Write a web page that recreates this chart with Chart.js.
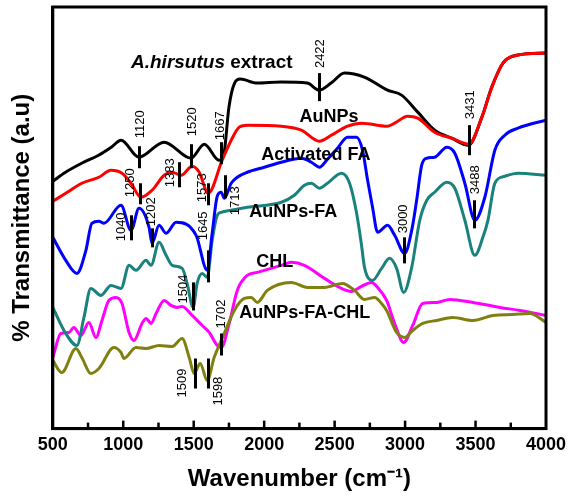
<!DOCTYPE html>
<html>
<head>
<meta charset="utf-8">
<script src="https://cdn.jsdelivr.net/npm/chart.js@4.4.0/dist/chart.umd.min.js"></script>
<style>
  html, body { margin: 0; padding: 0; background: #fff; }
</style>
</head>
<body>
<canvas id="ftirChart" width="575" height="498"></canvas>
<script>
// FTIR spectra, wavenumber (cm-1) vs transmittance (arbitrary, offset units)
const extractWn = [500, 590, 705, 825, 915, 985, 1110, 1290, 1480, 1575, 1680, 1715, 1750, 1790, 1830, 1950, 2120, 2305, 2390, 2475, 2570, 2710, 2875, 2975, 3090, 3210, 3330, 3450, 3545, 3615, 3695, 3800, 4000];
const extractT = [247, 256, 265, 273, 281, 288, 271, 286, 270, 284, 268, 275, 321, 345, 349, 345, 346, 345, 338, 345, 355, 351, 338, 333, 316, 298, 290, 283, 311, 341, 365, 373, 375];

const aunpsWn = [500, 592, 706, 827, 913, 991, 1055, 1126, 1204, 1290, 1347, 1411, 1489, 1539, 1603, 1702, 1766, 1823, 1880, 2122, 2264, 2392, 2478, 2592, 2691, 2876, 2926, 3018, 3090, 3210, 3331, 3452, 3545, 3616, 3694, 3801, 4000];
const aunpsT = [227, 235, 245, 251, 258, 255, 245, 231, 238, 253, 256, 253, 262, 256, 235, 268, 288, 301, 303, 302, 298, 287, 293, 302, 305, 302, 305, 312, 310, 296, 290, 284, 311, 341, 365, 373, 375];

const faWn = [500, 592, 671, 735, 777, 827, 863, 984, 1055, 1112, 1183, 1204, 1254, 1304, 1375, 1517, 1596, 1631, 1667, 1695, 1717, 1766, 1809, 1880, 2001, 2122, 2264, 2335, 2392, 2449, 2520, 2592, 2656, 2698, 2734, 2769, 2805, 2876, 2926, 2997, 3047, 3082, 3118, 3154, 3210, 3296, 3353, 3424, 3495, 3566, 3637, 3708, 3801, 4000];
const faT = [191, 168, 155, 178, 205, 207, 205, 223, 198, 220, 201, 185, 203, 195, 206, 193, 158, 195, 232, 236, 230, 245, 251, 256, 261, 266, 270, 266, 261, 269, 280, 291, 291, 278, 248, 221, 196, 203, 193, 175, 198, 228, 263, 270, 271, 281, 275, 245, 208, 231, 278, 293, 300, 308];

const aunpsFaWn = [500, 592, 671, 721, 770, 841, 913, 984, 1041, 1090, 1162, 1197, 1254, 1304, 1347, 1418, 1453, 1496, 1524, 1560, 1596, 1631, 1667, 1695, 1766, 1880, 2122, 2214, 2286, 2335, 2392, 2449, 2549, 2606, 2656, 2691, 2712, 2769, 2833, 2890, 2940, 2990, 3047, 3104, 3154, 3210, 3296, 3353, 3424, 3495, 3552, 3588, 3637, 3708, 3801, 4000];
const aunpsFaT = [121, 95, 83, 111, 140, 133, 143, 140, 163, 158, 168, 163, 186, 173, 163, 160, 145, 121, 145, 155, 151, 188, 213, 216, 218, 221, 226, 233, 243, 245, 240, 245, 255, 245, 215, 183, 161, 148, 160, 170, 160, 136, 161, 208, 228, 236, 246, 240, 208, 173, 191, 208, 245, 252, 255, 253];

const chlWn = [500, 557, 614, 649, 699, 756, 806, 849, 898, 948, 991, 1041, 1076, 1133, 1162, 1197, 1233, 1290, 1339, 1382, 1418, 1489, 1560, 1610, 1667, 1695, 1752, 1809, 1880, 1951, 2122, 2193, 2286, 2428, 2549, 2620, 2691, 2762, 2805, 2869, 2926, 2990, 3054, 3125, 3225, 3317, 3481, 3673, 3815, 4000];
const chlT = [71, 95, 96, 101, 93, 106, 91, 108, 128, 131, 125, 96, 88, 105, 110, 105, 115, 128, 123, 121, 122, 113, 103, 96, 83, 81, 105, 138, 153, 156, 163, 166, 163, 150, 140, 137, 142, 146, 141, 128, 105, 86, 103, 125, 126, 129, 126, 121, 118, 113];

const aunpsFaChlWn = [500, 564, 664, 706, 770, 827, 934, 984, 1005, 1090, 1162, 1254, 1347, 1418, 1468, 1503, 1546, 1596, 1645, 1717, 1788, 1859, 1909, 1951, 2022, 2193, 2307, 2428, 2556, 2641, 2712, 2784, 2833, 2869, 2940, 2997, 3054, 3125, 3225, 3338, 3481, 3623, 3765, 3886, 4000];
const aunpsFaChlT = [68, 56, 80, 71, 55, 60, 81, 76, 70, 81, 80, 83, 82, 90, 71, 55, 65, 48, 71, 95, 118, 130, 131, 126, 138, 146, 141, 141, 145, 138, 129, 131, 125, 118, 96, 91, 98, 105, 108, 111, 108, 113, 114, 115, 106];

const seriesNames = ['A.hirsutus extract', 'AuNPs', 'Activated FA', 'AuNPs-FA', 'CHL', 'AuNPs-FA-CHL'];
const xTicks = [500, 1000, 1500, 2000, 2500, 3000, 3500, 4000];

// marked bands: label, wavenumber, vertical extent of the marker bar
const peakLabels = ['1120', '1520', '1667', '2422', '3431', '1250', '1383', '1573', '1713', '1040', '1202', '1645', '1504', '3000', '3488', '1702', '1509', '1598'];
const peakWn = [1112, 1482, 1695, 2392, 3452, 1119, 1396, 1603, 1724, 1055, 1204, 1603, 1496, 2990, 3488, 1695, 1510, 1603];
const peakLo = [260, 260, 264, 327, 273, 224, 241, 223, 230, 188, 181, 146, 118, 165, 200, 73, 40, 40];
const peakHi = [282, 284, 286, 355, 303, 245, 266, 245, 253, 213, 200, 178, 146, 191, 228, 95, 70, 70];

const FONT = '"Liberation Sans", Arial, sans-serif';
Chart.defaults.font.family = FONT;
Chart.defaults.color = '#000';

// where each band label sits: [x offset px, start value of rotated text]
const peakLabelPos = [[0, 290], [0, 292], [-2, 288], [0, 360], [0, 309], [-11, 231], [-10, 241], [-7, 226], [9, 213], [-11, 187], [-2, 202], [-6, 188], [-11, 125], [-2, 195], [0, 234], [-1, 100], [-14, 31], [9, 23]];
// series name anchors: [wavenumber, baseline value]
const namePos = [[1055, 360], [2250, 306], [1980, 268], [1894, 211], [1944, 161], [1823, 110]];

function pts(wn, t) {
  return wn.map((w, i) => ({ x: w, y: t[i] }));
}

const annotate = {
  id: 'annotate',
  afterDatasetsDraw(chart) {
    const { ctx, chartArea: a, scales: { x, y } } = chart;
    ctx.save();
    ctx.strokeStyle = '#000';
    ctx.fillStyle = '#000';

    // frame
    ctx.lineWidth = 3;
    ctx.strokeRect(a.left, a.top, a.right - a.left, a.bottom - a.top);

    // inward ticks on the x axis
    ctx.lineWidth = 2.5;
    for (let v = 750; v < 4000; v += 250) {
      const px = x.getPixelForValue(v);
      const len = v % 500 === 0 ? 8 : 6;
      ctx.beginPath();
      ctx.moveTo(px, a.bottom);
      ctx.lineTo(px, a.bottom - len);
      ctx.stroke();
    }

    // band markers
    ctx.lineWidth = 3;
    ctx.font = '13px ' + FONT;
    ctx.textAlign = 'left';
    ctx.textBaseline = 'middle';
    peakLabels.forEach((lab, i) => {
      const px = Math.round(x.getPixelForValue(peakWn[i])) + 0.5;
      ctx.beginPath();
      ctx.moveTo(px, y.getPixelForValue(peakLo[i]));
      ctx.lineTo(px, y.getPixelForValue(peakHi[i]));
      ctx.stroke();
      const [dx, start] = peakLabelPos[i];
      ctx.save();
      ctx.translate(px + dx, y.getPixelForValue(start));
      ctx.rotate(-Math.PI / 2);
      ctx.fillText(lab, 0, 1);
      ctx.restore();
    });

    // series names
    ctx.textBaseline = 'alphabetic';
    seriesNames.forEach((name, i) => {
      const px = x.getPixelForValue(namePos[i][0]);
      const py = y.getPixelForValue(namePos[i][1]);
      if (i === 0) {
        const sp = name.split(' ')[0];
        const rest = ' ' + name.split(' ').slice(1).join(' ');
        ctx.font = 'italic bold 19px ' + FONT;
        ctx.fillText(sp, px, py);
        const w = ctx.measureText(sp).width;
        ctx.font = 'bold 19px ' + FONT;
        ctx.fillText(rest, px + w, py);
      } else {
        ctx.font = 'bold 18px ' + FONT;
        ctx.fillText(name, px, py);
      }
    });
    ctx.restore();
  }
};

const lineStyle = { borderWidth: 3, pointRadius: 0, fill: false, cubicInterpolationMode: 'monotone' };

new Chart(document.getElementById('ftirChart').getContext('2d'), {
  type: 'line',
  data: {
    datasets: [
      { label: seriesNames[1], data: pts(aunpsWn, aunpsT), borderColor: '#ff0000', order: 0, ...lineStyle },
      { label: seriesNames[0], data: pts(extractWn, extractT), borderColor: '#000000', order: 1, ...lineStyle },
      { label: seriesNames[2], data: pts(faWn, faT), borderColor: '#0000ff', order: 2, ...lineStyle },
      { label: seriesNames[3], data: pts(aunpsFaWn, aunpsFaT), borderColor: '#1a827c', order: 3, ...lineStyle },
      { label: seriesNames[5], data: pts(aunpsFaChlWn, aunpsFaChlT), borderColor: '#808010', order: 4, ...lineStyle },
      { label: seriesNames[4], data: pts(chlWn, chlT), borderColor: '#ff00ff', order: 5, ...lineStyle }
    ]
  },
  options: {
    responsive: false,
    animation: false,
    devicePixelRatio: 1,
    layout: { padding: { left: 4, right: 29, top: 7, bottom: 4 } },
    plugins: { legend: { display: false }, tooltip: { enabled: false } },
    scales: {
      x: {
        type: 'linear',
        min: 500,
        max: 4000,
        afterBuildTicks: axis => { axis.ticks = xTicks.map(v => ({ value: v })); },
        grid: { display: false, drawTicks: false },
        border: { display: true, color: '#000', width: 3 },
        ticks: {
          padding: 6,
          autoSkip: false,
          maxRotation: 0,
          color: '#000',
          font: { size: 18, weight: 'bold' },
          callback: v => String(v)
        },
        title: {
          display: true,
          text: 'Wavenumber (cm\u207B\u00B9)',
          color: '#000',
          font: { size: 24, weight: 'bold' },
          padding: { top: 3, bottom: 0 }
        }
      },
      y: {
        min: 0,
        max: 421,
        grid: { display: false, drawTicks: false },
        border: { display: true, color: '#000', width: 3 },
        ticks: { display: false },
        title: {
          display: true,
          text: '% Transmittance (a.u)',
          color: '#000',
          font: { size: 24, weight: 'bold' },
          padding: { top: 4, bottom: 16 }
        }
      }
    }
  },
  plugins: [annotate]
});
</script>
</body>
</html>
